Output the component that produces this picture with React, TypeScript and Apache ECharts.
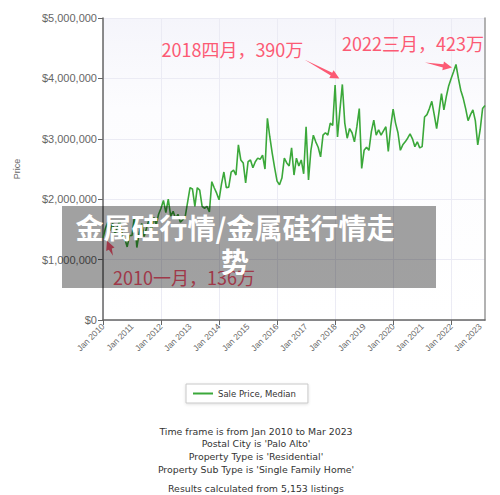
import React, { useEffect, useRef } from "react";
import * as echarts from "echarts";

// ---- data ----
const YEARS = [2010, 2011, 2012, 2013, 2014, 2015, 2016, 2017, 2018, 2019, 2020, 2021, 2022, 2023];
const MONTHS = ["Jan", "Feb", "Mar", "Apr", "May", "Jun", "Jul", "Aug", "Sep", "Oct", "Nov", "Dec"];
const CN_MONTHS = ["一月", "二月", "三月", "四月", "五月", "六月", "七月", "八月", "九月", "十月", "十一月", "十二月"];
const SERIES_NAME = "Sale Price, Median";

// monthly median sale price, Jan 2010 .. Mar 2023 (USD)
const SALE_PRICE_MEDIAN = [
  // 2010
  1360000, 1520000, 1620000, 1480000, 1600000, 1420000, 1550000, 1650000, 1400000, 1350000, 1210000, 1400000,
  // 2011
  1400000, 1720000, 1200000, 1450000, 1600000, 1380000, 1520000, 1660000, 1480000, 1700000, 1580000, 1750000,
  // 2012
  1850000, 1980000, 1780000, 2000000, 1720000, 1800000, 1680000, 1750000, 1620000, 1660000, 1710000, 1950000,
  // 2013
  2190000, 2170000, 1880000, 2190000, 2150000, 1880000, 1850000, 1880000, 1790000, 2290000, 2190000, 2100000,
  // 2014
  1990000, 2250000, 2450000, 2190000, 2200000, 2450000, 2480000, 2400000, 2900000, 2650000, 2600000, 2270000,
  // 2015
  2620000, 2650000, 2520000, 2620000, 2680000, 2660000, 2730000, 2500000, 3340000, 3030000, 2760000, 2520000,
  // 2016
  2300000, 2240000, 2350000, 2680000, 2600000, 2550000, 2850000, 2400000, 2680000, 2550000, 2650000, 2420000,
  // 2017
  3200000, 2320000, 2810000, 3060000, 2950000, 2860000, 2700000, 3060000, 3100000, 3060000, 3260000, 3220000,
  // 2018
  3890000, 3030000, 3480000, 3900000, 3260000, 3010000, 3170000, 3100000, 2950000, 3200000, 3500000, 2510000,
  // 2019
  2810000, 2860000, 2810000, 3120000, 3310000, 3060000, 3150000, 3060000, 3130000, 3200000, 2790000, 3200000,
  // 2020
  3490000, 3260000, 3100000, 2810000, 2900000, 2950000, 3010000, 3080000, 3000000, 2870000, 2950000, 2850000,
  // 2021
  2870000, 3360000, 3400000, 3500000, 3620000, 3400000, 3170000, 3450000, 3750000, 3480000, 3700000, 3880000,
  // 2022
  4000000, 4110000, 4230000, 4000000, 3800000, 3670000, 3500000, 3300000, 3400000, 3480000, 3300000, 2900000,
  // 2023
  3150000, 3500000, 3550000,
];

// annotated points (month index into SALE_PRICE_MEDIAN)
const ANNOTATED_INDEX = [0, 99, 146];

const TITLE_OVERLAY = "金属硅行情/金属硅行情走\n势";
const FOOTNOTES = [
  "Time frame is from Jan 2010 to Mar 2023",
  "Postal City is 'Palo Alto'",
  "Property Type is 'Residential'",
  "Property Sub Type is 'Single Family Home'",
  "Results calculated from 5,153 listings",
];

const ANNO_COLOR = "#fc5a74";
const LINE_COLOR = "#3ba83a";

function arrowPoints(tx: number, ty: number, hx: number, hy: number, headLen = 9, headW = 4.5, shaftW = 1.6) {
  const dx = hx - tx, dy = hy - ty;
  const L = Math.hypot(dx, dy) || 1;
  const ux = dx / L, uy = dy / L;
  const nx = -uy, ny = ux;
  const bx = hx - ux * headLen, by = hy - uy * headLen;
  return [
    [tx, ty],
    [bx + nx * shaftW, by + ny * shaftW],
    [bx + nx * headW, by + ny * headW],
    [hx, hy],
    [bx - nx * headW, by - ny * headW],
    [bx - nx * shaftW, by - ny * shaftW],
  ];
}

function fmtMoney(v: number) {
  return "$" + String(v).replace(/\B(?=(\d{3})+(?!\d))/g, ",");
}

export default function App() {
  const ref = useRef<HTMLDivElement>(null);

  useEffect(() => {
    if (!ref.current) return;
    const chart = echarts.init(ref.current, null, { renderer: "svg", width: 500, height: 495 });

    const categories: string[] = [];
    for (let i = 0; i < SALE_PRICE_MEDIAN.length; i++) {
      categories.push(`${MONTHS[i % 12]} ${YEARS[Math.floor(i / 12)]}`);
    }

    chart.setOption({
      animation: false,
      backgroundColor: "#ffffff",
      textStyle: { fontFamily: "Liberation Sans" },
      grid: {
        left: 103,
        top: 18,
        right: 15,
        bottom: 175,
        show: true,
        borderWidth: 0,
        backgroundColor: new echarts.graphic.LinearGradient(0, 0, 0, 1, [
          { offset: 0, color: "#f5f5fb" },
          { offset: 0.3, color: "#fcfcfe" },
          { offset: 1, color: "#ffffff" },
        ]),
      },
      xAxis: {
        type: "category",
        data: categories,
        boundaryGap: false,
        axisLine: { lineStyle: { color: "#666", width: 1.5 } },
        axisTick: { interval: 23, length: 5, lineStyle: { color: "#666" } },
        axisLabel: {
          interval: 11,
          rotate: 45,
          fontSize: 8.5,
          color: "#666",
          margin: 5,
          fontFamily: "Liberation Sans",
        },
        splitLine: { show: true, interval: 23, lineStyle: { color: "#ebebf4" } },
      },
      yAxis: [
        {
          type: "value",
          min: 0,
          max: 5000000,
          interval: 1000000,
          name: "Price",
          nameLocation: "middle",
          nameGap: 82,
          nameRotate: 90,
          nameTextStyle: { fontSize: 9, color: "#666", fontFamily: "Liberation Sans" },
          axisLine: { show: true, lineStyle: { color: "#666", width: 1.5 } },
          axisTick: { show: true, length: 5, lineStyle: { color: "#666" } },
          axisLabel: {
            formatter: (v: number) => fmtMoney(v),
            fontSize: 11,
            color: "#666",
            margin: 6,
            fontFamily: "Liberation Sans",
          },
          splitLine: { lineStyle: { color: "#ebebf4" } },
        },
        {
          type: "value",
          position: "right",
          min: 0,
          max: 5000000,
          interval: 1000000,
          axisLine: { show: true, lineStyle: { color: "#999", width: 1.5 } },
          axisTick: { show: false },
          axisLabel: { show: false },
          splitLine: { show: false },
        },
      ],
      legend: {
        left: 186,
        top: 384,
        icon: "rect",
        itemWidth: 20,
        itemHeight: 2,
        itemGap: 5,
        padding: [5, 12, 5, 7],
        borderColor: "#c8c8c8",
        borderWidth: 1,
        backgroundColor: "#ffffff",
        shadowBlur: 3,
        shadowColor: "rgba(0,0,0,0.12)",
        shadowOffsetY: 1,
        textStyle: { fontSize: 8.5, color: "#333", fontFamily: "DejaVu Sans" },
        data: [SERIES_NAME],
      },
      series: [
        {
          type: "line",
          name: SERIES_NAME,
          data: SALE_PRICE_MEDIAN,
          symbol: "none",
          showSymbol: false,
          lineStyle: { color: LINE_COLOR, width: 1.6 },
          itemStyle: { color: LINE_COLOR },
        },
      ],
    });

    // annotations anchored to data points
    const graphics: any[] = [];
    ANNOTATED_INDEX.forEach((idx, k) => {
      const v = SALE_PRICE_MEDIAN[idx];
      const p = chart.convertToPixel({ seriesIndex: 0 }, [idx, v]) as number[];
      const label = `${YEARS[Math.floor(idx / 12)]}${CN_MONTHS[idx % 12]}，${Math.round(v / 10000)}万`;
      let head: number[], tail: number[], tx: number, ty: number, align: string;
      if (k === 0) {
        head = [p[0] + 4, p[1] + 3];
        tail = [head[0] + 6, head[1] + 15];
        tx = p[0] + 10; ty = p[1] + 39; align = "left";
      } else if (k === 1) {
        head = [p[0] - 3, p[1] - 6];
        tail = [head[0] - 35, head[1] - 19];
        tx = p[0] - 39; ty = p[1] - 35; align = "right";
      } else {
        head = [p[0] - 4, p[1] + 3];
        tail = [head[0] - 27, head[1] - 5];
        tx = p[0] + 28; ty = p[1] - 22; align = "right";
      }
      graphics.push({
        type: "polygon",
        z: 50,
        shape: { points: arrowPoints(tail[0], tail[1], head[0], head[1]) },
        style: { fill: ANNO_COLOR },
      });
      graphics.push({
        type: "text",
        z: 50,
        x: tx,
        y: ty,
        style: {
          text: label,
          fill: ANNO_COLOR,
          font: '18px "Noto Sans CJK SC"',
          textAlign: align,
          textVerticalAlign: "middle",
        },
      });
    });

    // title overlay
    graphics.push({
      type: "rect",
      z: 100,
      shape: { x: 62, y: 206, width: 374, height: 82 },
      style: { fill: "rgba(0,0,0,0.37)" },
    });
    graphics.push({
      type: "text",
      z: 101,
      x: 235,
      y: 244,
      style: {
        text: TITLE_OVERLAY,
        fill: "#ffffff",
        font: 'bold 28px "Noto Sans CJK SC"',
        lineHeight: 34,
        textAlign: "center",
        textVerticalAlign: "middle",
      },
    });

    // footnotes
    const footY = [431, 443.5, 456, 469, 488];
    FOOTNOTES.forEach((t, i) => {
      graphics.push({
        type: "text",
        z: 20,
        x: 256,
        y: footY[i],
        style: {
          text: t,
          fill: "#333",
          font: '9.4px "DejaVu Sans"',
          textAlign: "center",
          textVerticalAlign: "middle",
        },
      });
    });

    chart.setOption({ graphic: graphics });

    return () => chart.dispose();
  }, []);

  return <div ref={ref} style={{ position: "absolute", left: 0, top: 0, width: 500, height: 495 }} />;
}
